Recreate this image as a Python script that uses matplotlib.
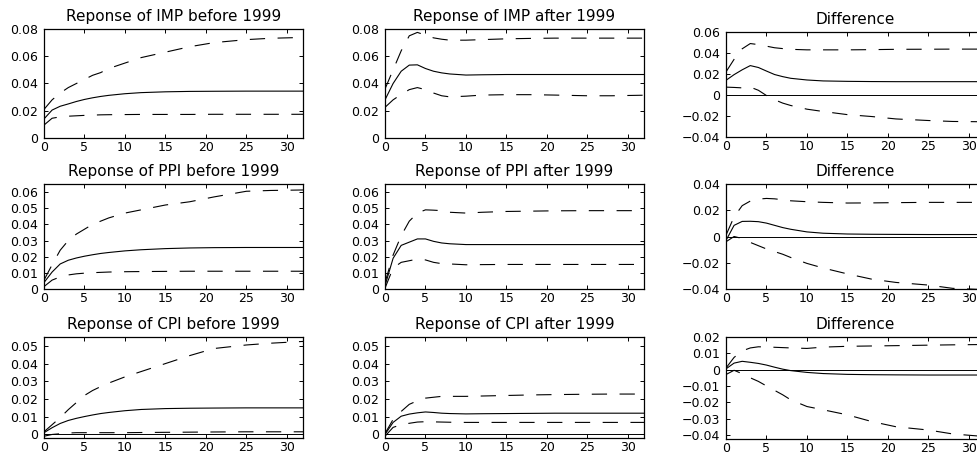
import numpy as np
import matplotlib
matplotlib.use('Agg')
import matplotlib.pyplot as plt
from matplotlib.ticker import MultipleLocator, FuncFormatter

plt.rcParams['font.family'] = ['DejaVu Sans']
plt.rcParams['lines.scale_dashes'] = False

h = [0, 1, 2, 3, 4, 5, 6, 7, 8, 10, 12, 15, 18, 21, 25, 28, 32]

# IMP
imp_pre_mid = [0.014, 0.0205, 0.0233, 0.025, 0.0268, 0.0283, 0.0295, 0.0305, 0.0313, 0.0325, 0.0333, 0.0339, 0.0342, 0.0343, 0.0344, 0.0344, 0.0344]
imp_pre_hi = [0.021, 0.028, 0.033, 0.037, 0.040, 0.043, 0.046, 0.048, 0.051, 0.055, 0.059, 0.063, 0.067, 0.070, 0.0722, 0.0732, 0.0738]
imp_pre_lo = [0.0095, 0.0145, 0.0155, 0.016, 0.0163, 0.0166, 0.0168, 0.017, 0.0171, 0.0172, 0.0173, 0.0173, 0.0173, 0.0174, 0.0174, 0.0174, 0.0174]
imp_post_mid = [0.028, 0.040, 0.049, 0.0535, 0.0537, 0.051, 0.049, 0.0478, 0.047, 0.0462, 0.0464, 0.0466, 0.0466, 0.0466, 0.0466, 0.0466, 0.0466]
imp_post_hi = [0.036, 0.050, 0.064, 0.075, 0.0775, 0.0755, 0.0735, 0.0725, 0.0718, 0.0718, 0.0722, 0.0728, 0.0731, 0.0733, 0.0733, 0.0733, 0.0733]
imp_post_lo = [0.0225, 0.028, 0.032, 0.0355, 0.037, 0.0355, 0.033, 0.031, 0.0302, 0.0307, 0.0315, 0.0318, 0.0318, 0.0315, 0.031, 0.031, 0.0314]
imp_diff_mid = [0.014, 0.0194, 0.024, 0.028, 0.0262, 0.0228, 0.0195, 0.0175, 0.0159, 0.0143, 0.0134, 0.013, 0.0128, 0.0127, 0.0127, 0.0127, 0.0127]
imp_diff_hi = [0.022, 0.034, 0.044, 0.049, 0.048, 0.0465, 0.045, 0.0442, 0.0435, 0.043, 0.043, 0.043, 0.0432, 0.0435, 0.0436, 0.0437, 0.0437]
imp_diff_lo = [0.0075, 0.0072, 0.0068, 0.0075, 0.0045, -0.0005, -0.0045, -0.0077, -0.010, -0.0135, -0.0157, -0.0187, -0.0205, -0.0228, -0.0243, -0.0252, -0.0255]

# PPI
ppi_pre_mid = [0.004, 0.0105, 0.0155, 0.0178, 0.0192, 0.0203, 0.0212, 0.022, 0.0226, 0.0236, 0.0243, 0.025, 0.0254, 0.0256, 0.0257, 0.0257, 0.0257]
ppi_pre_hi = [0.0055, 0.015, 0.024, 0.030, 0.034, 0.037, 0.040, 0.042, 0.044, 0.047, 0.049, 0.052, 0.054, 0.057, 0.0605, 0.061, 0.0613]
ppi_pre_lo = [0.0015, 0.0055, 0.0075, 0.0087, 0.0094, 0.0098, 0.0101, 0.0103, 0.0105, 0.0107, 0.0108, 0.0109, 0.011, 0.011, 0.011, 0.011, 0.011]
ppi_post_mid = [0.002, 0.019, 0.027, 0.029, 0.031, 0.031, 0.0295, 0.0285, 0.028, 0.0275, 0.0275, 0.0275, 0.0275, 0.0275, 0.0275, 0.0275, 0.0275]
ppi_post_hi = [0.004, 0.021, 0.033, 0.042, 0.047, 0.049, 0.0488, 0.0485, 0.0475, 0.047, 0.0475, 0.048, 0.0482, 0.0484, 0.0485, 0.0485, 0.0485]
ppi_post_lo = [0.0005, 0.013, 0.0165, 0.0175, 0.0185, 0.018, 0.0165, 0.0157, 0.0155, 0.015, 0.0151, 0.0152, 0.0152, 0.0152, 0.0152, 0.0152, 0.0152]
ppi_diff_mid = [-0.003, 0.0085, 0.0115, 0.0116, 0.0113, 0.0102, 0.0085, 0.0068, 0.0055, 0.0035, 0.0025, 0.0019, 0.0017, 0.0016, 0.0015, 0.0015, 0.0015]
ppi_diff_hi = [0.001, 0.015, 0.0235, 0.027, 0.0285, 0.029, 0.0287, 0.028, 0.0272, 0.0265, 0.026, 0.0255, 0.0256, 0.0258, 0.026, 0.026, 0.026]
ppi_diff_lo = [-0.004, 0.0, -0.0015, -0.0045, -0.007, -0.0095, -0.0115, -0.0135, -0.016, -0.0205, -0.024, -0.0285, -0.0325, -0.035, -0.037, -0.0395, -0.0405]

# CPI
cpi_pre_mid = [0.001, 0.0038, 0.0062, 0.0079, 0.0091, 0.0101, 0.011, 0.0118, 0.0124, 0.0134, 0.0141, 0.0146, 0.0148, 0.0149, 0.015, 0.015, 0.015]
cpi_pre_hi = [0.0015, 0.0055, 0.0095, 0.014, 0.018, 0.022, 0.0248, 0.027, 0.029, 0.0325, 0.0355, 0.040, 0.0445, 0.0485, 0.0505, 0.0515, 0.0525]
cpi_pre_lo = [-0.001, 0.0, 0.0004, 0.0008, 0.001, 0.001, 0.001, 0.001, 0.001, 0.001, 0.0011, 0.0012, 0.0013, 0.0014, 0.0015, 0.0015, 0.0015]
cpi_post_mid = [0.0, 0.0068, 0.0103, 0.0115, 0.0122, 0.0127, 0.0124, 0.012, 0.0118, 0.0116, 0.0117, 0.0118, 0.0119, 0.012, 0.012, 0.012, 0.012]
cpi_post_hi = [0.0005, 0.0085, 0.013, 0.017, 0.019, 0.0205, 0.021, 0.0215, 0.0215, 0.0215, 0.0217, 0.022, 0.0223, 0.0225, 0.0227, 0.0228, 0.0228]
cpi_post_lo = [-0.001, 0.004, 0.0055, 0.0063, 0.007, 0.0072, 0.0071, 0.007, 0.0069, 0.0068, 0.0068, 0.0068, 0.0068, 0.0068, 0.0068, 0.0068, 0.0068]
cpi_diff_mid = [0.0005, 0.004, 0.0051, 0.0045, 0.0038, 0.0028, 0.0015, 0.0003, -0.0006, -0.0017, -0.0024, -0.0029, -0.0031, -0.0032, -0.0033, -0.0033, -0.0033]
cpi_diff_hi = [0.001, 0.0075, 0.0115, 0.0133, 0.014, 0.0139, 0.0137, 0.0135, 0.0133, 0.013, 0.0138, 0.0143, 0.0145, 0.0147, 0.015, 0.0152, 0.0154]
cpi_diff_lo = [-0.003, -0.0004, -0.0025, -0.005, -0.0072, -0.010, -0.0127, -0.0154, -0.0185, -0.0226, -0.0246, -0.0277, -0.0318, -0.035, -0.037, -0.0394, -0.041]

titles = [
    ['Reponse of IMP before 1999', 'Reponse of IMP after 1999', 'Difference'],
    ['Reponse of PPI before 1999', 'Reponse of PPI after 1999', 'Difference'],
    ['Reponse of CPI before 1999', 'Reponse of CPI after 1999', 'Difference'],
]
series = [
    [(imp_pre_mid, imp_pre_lo, imp_pre_hi), (imp_post_mid, imp_post_lo, imp_post_hi), (imp_diff_mid, imp_diff_lo, imp_diff_hi)],
    [(ppi_pre_mid, ppi_pre_lo, ppi_pre_hi), (ppi_post_mid, ppi_post_lo, ppi_post_hi), (ppi_diff_mid, ppi_diff_lo, ppi_diff_hi)],
    [(cpi_pre_mid, cpi_pre_lo, cpi_pre_hi), (cpi_post_mid, cpi_post_lo, cpi_post_hi), (cpi_diff_mid, cpi_diff_lo, cpi_diff_hi)],
]

# axis limits and tick steps per panel
ylims = [
    [(0, 0.08), (0, 0.08), (-0.04, 0.06)],
    [(0, 0.065), (0, 0.065), (-0.04, 0.04)],
    [(-0.002, 0.055), (-0.002, 0.055), (-0.0425, 0.02)],
]
ysteps = [[0.02, 0.02, 0.02], [0.01, 0.01, 0.02], [0.01, 0.01, 0.01]]

# panel boxes in pixels: (left, top, bottom)
W, H = 978, 457
col_left = [44, 385, 726]
box_w = 259
row_tb = [
    [(29, 138), (29, 138), (32, 137)],
    [(184, 289), (184, 289), (184, 289)],
    [(337, 438), (337, 438), (337, 439)],
]

fmt = FuncFormatter(lambda v, p: '0' if abs(v) < 1e-9 else f'{v:.2f}'.replace('-', '\u2212'))

fig = plt.figure(figsize=(W / 100, H / 100), dpi=100)

for r in range(3):
    for c in range(3):
        top, bot = row_tb[r][c]
        ax = fig.add_axes([col_left[c] / W, 1 - bot / H, box_w / W, (bot - top) / H])
        mid, lo, hi = series[r][c]
        ax.plot(h, mid, color='black', lw=0.8)
        ax.plot(h, lo, color='black', lw=0.8, linestyle=(0, (11, 9)))
        ax.plot(h, hi, color='black', lw=0.8, linestyle=(0, (11, 9)))
        ax.axhline(0, color='black', lw=0.7)
        ax.set_xlim(0, 32)
        ax.set_ylim(*ylims[r][c])
        ax.xaxis.set_major_locator(MultipleLocator(5))
        ax.yaxis.set_major_locator(MultipleLocator(ysteps[r][c]))
        ax.yaxis.set_major_formatter(fmt)
        ax.tick_params(direction='in', top=True, right=True, length=3, width=0.7, labelsize=9)
        ax.tick_params(axis='x', pad=2)
        ax.tick_params(axis='y', pad=4)
        for s in ax.spines.values():
            s.set_linewidth(0.9)
        ax.set_title(titles[r][c], fontsize=11, pad=6)

fig.savefig('out.png', dpi=100)
